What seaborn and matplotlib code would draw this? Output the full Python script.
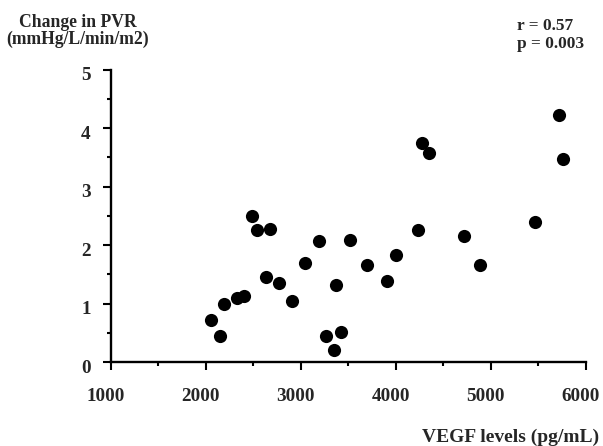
import matplotlib
matplotlib.use("Agg")
import matplotlib.pyplot as plt
import matplotlib.transforms as mtransforms
import seaborn as sns
import pandas as pd
from matplotlib.ticker import MultipleLocator

# values
vegf = [2054, 2149, 2191, 2328, 2405, 2489, 2542, 2679, 2636, 2770,
        2910, 3047, 3189, 3374, 3262, 3350, 3424, 3515, 3701, 3908,
        4000, 4232, 4717, 4881, 5460, 4280, 4348, 5718, 5763]
pvr_change = [0.72, 0.45, 1.00, 1.10, 1.13, 2.50, 2.25, 2.28, 1.45, 1.35,
              1.04, 1.70, 2.07, 1.31, 0.45, 0.21, 0.52, 2.08, 1.66, 1.38,
              1.83, 2.25, 2.15, 1.66, 2.39, 3.75, 3.57, 4.23, 3.47]
x_ticks = [1000, 2000, 3000, 4000, 5000, 6000]
y_ticks = [0, 1, 2, 3, 4, 5]

df = pd.DataFrame({'VEGF': vegf, 'PVR': pvr_change})

sns.set_style('ticks')
plt.rcParams['font.family'] = ['Liberation Serif', 'DejaVu Serif']
plt.rcParams['font.weight'] = 'bold'

fig = plt.figure(figsize=(6.03, 4.46), dpi=100)
ax = fig.add_axes([0.184, 0.1883, 0.7875, 0.6555])

sns.scatterplot(data=df, x='VEGF', y='PVR', color='black', s=90,
                linewidth=0, ax=ax)

ax.set_xlim(1000, 6000)
ax.set_ylim(0, 5)
ax.set_xticks(x_ticks)
ax.set_yticks(y_ticks)
ax.xaxis.set_minor_locator(MultipleLocator(500))
ax.yaxis.set_minor_locator(MultipleLocator(0.5))
ax.set_xlabel('')
ax.set_ylabel('')

sns.despine(ax=ax)
for side in ['left', 'bottom']:
    ax.spines[side].set_linewidth(1.7)
    ax.spines[side].set_color('black')

ax.tick_params(which='major', length=5.5, width=1.5, color='black',
               labelsize=13.8)
ax.tick_params(axis='x', which='major', pad=13)
ax.tick_params(axis='y', which='major', pad=9)
ax.tick_params(which='minor', length=2.8, width=1.5, color='black')

# labels in the reference sit a little left of / below their ticks
dx = mtransforms.ScaledTranslation(-5 / 100, 0, fig.dpi_scale_trans)
dy = mtransforms.ScaledTranslation(0, -4 / 100, fig.dpi_scale_trans)
for lab in ax.get_xticklabels():
    lab.set_fontweight('bold')
    lab.set_transform(lab.get_transform() + dx)
for lab in ax.get_yticklabels():
    lab.set_fontweight('bold')
    lab.set_transform(lab.get_transform() + dy)

fig.text(0.129, 0.9395, 'Change in PVR', ha='center', va='baseline',
         fontsize=12.7, fontweight='bold')
fig.text(0.129, 0.901, '(mmHg/L/min/m2)', ha='center', va='baseline',
         fontsize=12.7, fontweight='bold')
fig.text(0.857, 0.933, 'r = 0.57', ha='left', va='baseline',
         fontsize=12.4, fontweight='bold')
fig.text(0.857, 0.892, 'p = 0.003', ha='left', va='baseline',
         fontsize=12.4, fontweight='bold')
fig.text(0.993, 0.0096, 'VEGF levels (pg/mL)', ha='right', va='baseline',
         fontsize=14, fontweight='bold')

fig.savefig('out.png', dpi=100)
